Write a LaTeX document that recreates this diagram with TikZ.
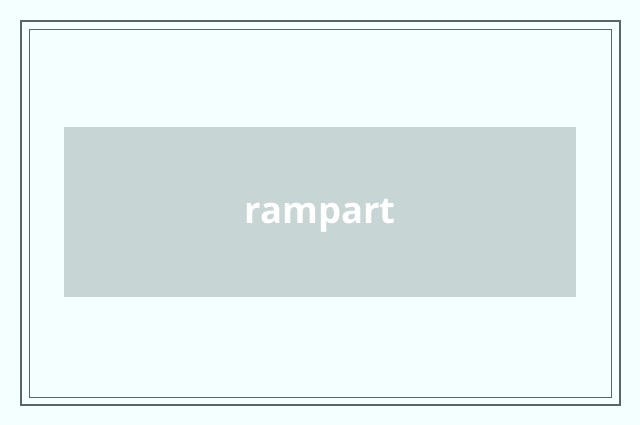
\documentclass[tikz,border=0pt]{standalone}
\usepackage{fontspec}
\setmainfont{Open Sans}
\definecolor{bg}{HTML}{F4FFFF}
\definecolor{frame}{HTML}{5A6666}
\definecolor{boxc}{HTML}{C8D5D5}
\begin{document}
\begin{tikzpicture}[x=1pt,y=-1pt]
\tikzset{lbl/.style={text=white,font=\fontsize{36.5}{42}\selectfont\bfseries}}
\fill[bg] (0,0) rectangle (640,425);
\useasboundingbox (0,0) rectangle (640,425);
\draw[frame,line width=1.8pt] (21,21) rectangle (620,405);
\draw[frame,line width=0.8pt] (29,29) rectangle (611,397);
\fill[boxc] (64,127) rectangle (576,297);
\node[lbl] (t) at (320,216) {rampart};
\end{tikzpicture}
\end{document}
